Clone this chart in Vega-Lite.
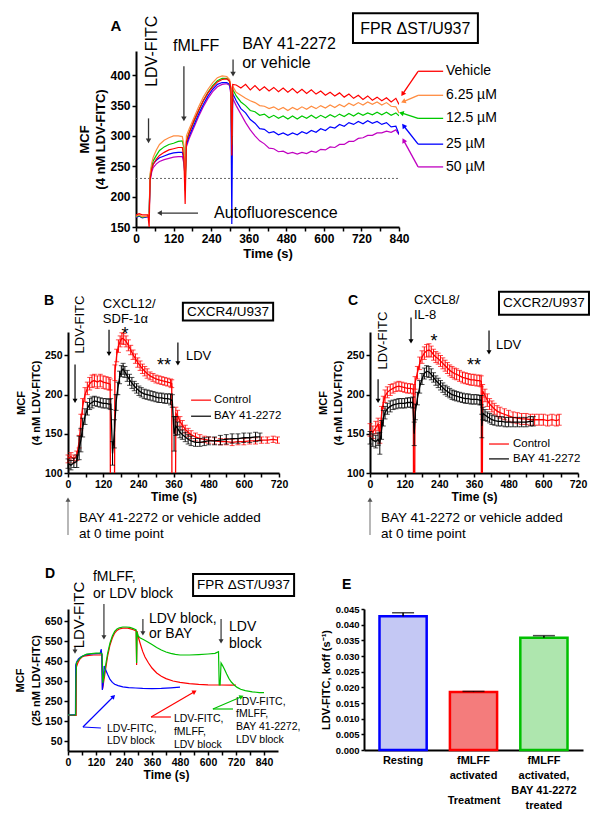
{
"$schema":"https://vega.github.io/schema/vega-lite/v6.json",
"padding":{"left":5,"top":5,"right":0,"bottom":0},
"background":"white",
"config":{
 "font":"Liberation Sans",
 "view":{"stroke":null},
 "axis":{"domainColor":"#000","domainWidth":2,"tickColor":"#000","tickWidth":1.5,"tickSize":4,"labelFontWeight":"bold","labelColor":"#000","titleFontWeight":"bold","titleColor":"#000","grid":false,"labelPadding":2},
 "text":{"color":"#000"}
},
"datasets":{
"a_lines":[
{"s":"50","x":0,"y":166},{"s":"50","x":10,"y":168},{"s":"50","x":20,"y":166},{"s":"50","x":38,"y":167},{"s":"50","x":42,"y":170},{"s":"50","x":45,"y":225},{"s":"50","x":50,"y":240},{"s":"50","x":55,"y":248},{"s":"50","x":65,"y":254},{"s":"50","x":75,"y":258},{"s":"50","x":90,"y":261},{"s":"50","x":105,"y":263},{"s":"50","x":120,"y":265},{"s":"50","x":135,"y":266},{"s":"50","x":148,"y":266},{"s":"50","x":153,"y":255},{"s":"50","x":157,"y":230},{"s":"50","x":161,"y":282},{"s":"50","x":170,"y":296},{"s":"50","x":185,"y":314},{"s":"50","x":200,"y":332},{"s":"50","x":215,"y":348},{"s":"50","x":230,"y":362},{"s":"50","x":245,"y":373},{"s":"50","x":260,"y":381},{"s":"50","x":275,"y":385},{"s":"50","x":290,"y":386},{"s":"50","x":299,"y":383},{"s":"50","x":303,"y":368},{"s":"50","x":306,"y":330},{"s":"50","x":309,"y":362},
{"s":"50","x":320,"y":350},{"s":"50","x":335,"y":336},{"s":"50","x":350,"y":322},{"s":"50","x":365,"y":310},{"s":"50","x":380,"y":300},{"s":"50","x":395,"y":292},{"s":"50","x":410,"y":287},{"s":"50","x":425,"y":280},{"s":"50","x":440,"y":279},{"s":"50","x":455,"y":274},{"s":"50","x":470,"y":275},{"s":"50","x":485,"y":271},{"s":"50","x":500,"y":273},{"s":"50","x":515,"y":270},{"s":"50","x":530,"y":273},{"s":"50","x":545,"y":271},{"s":"50","x":560,"y":275},{"s":"50","x":575,"y":273},{"s":"50","x":590,"y":278},{"s":"50","x":605,"y":277},{"s":"50","x":620,"y":282},{"s":"50","x":635,"y":281},{"s":"50","x":650,"y":286},{"s":"50","x":665,"y":286},{"s":"50","x":680,"y":291},{"s":"50","x":695,"y":291},{"s":"50","x":710,"y":296},{"s":"50","x":725,"y":297},{"s":"50","x":740,"y":301},{"s":"50","x":755,"y":301},{"s":"50","x":770,"y":305},{"s":"50","x":785,"y":305},{"s":"50","x":800,"y":308},{"s":"50","x":815,"y":306},{"s":"50","x":830,"y":310},{"s":"50","x":840,"y":302},
{"s":"25","x":0,"y":166},{"s":"25","x":10,"y":168},{"s":"25","x":20,"y":165},{"s":"25","x":38,"y":167},{"s":"25","x":42,"y":170},{"s":"25","x":45,"y":230},{"s":"25","x":50,"y":246},{"s":"25","x":55,"y":254},{"s":"25","x":65,"y":260},{"s":"25","x":75,"y":264},{"s":"25","x":90,"y":267},{"s":"25","x":105,"y":270},{"s":"25","x":120,"y":272},{"s":"25","x":135,"y":273},{"s":"25","x":148,"y":273},{"s":"25","x":153,"y":262},{"s":"25","x":157,"y":232},{"s":"25","x":161,"y":286},{"s":"25","x":170,"y":300},{"s":"25","x":185,"y":318},{"s":"25","x":200,"y":336},{"s":"25","x":215,"y":352},{"s":"25","x":230,"y":366},{"s":"25","x":245,"y":377},{"s":"25","x":260,"y":385},{"s":"25","x":275,"y":388},{"s":"25","x":290,"y":388},{"s":"25","x":299,"y":385},{"s":"25","x":303,"y":372},{"s":"25","x":306,"y":155},{"s":"25","x":309,"y":370},
{"s":"25","x":320,"y":358},{"s":"25","x":335,"y":345},{"s":"25","x":350,"y":338},{"s":"25","x":365,"y":327},{"s":"25","x":380,"y":321},{"s":"25","x":395,"y":312},{"s":"25","x":410,"y":311},{"s":"25","x":425,"y":305},{"s":"25","x":440,"y":307},{"s":"25","x":455,"y":302},{"s":"25","x":470,"y":305},{"s":"25","x":485,"y":301},{"s":"25","x":500,"y":305},{"s":"25","x":515,"y":302},{"s":"25","x":530,"y":307},{"s":"25","x":545,"y":304},{"s":"25","x":560,"y":309},{"s":"25","x":575,"y":306},{"s":"25","x":590,"y":312},{"s":"25","x":605,"y":309},{"s":"25","x":620,"y":315},{"s":"25","x":635,"y":313},{"s":"25","x":650,"y":319},{"s":"25","x":665,"y":316},{"s":"25","x":680,"y":322},{"s":"25","x":695,"y":319},{"s":"25","x":710,"y":324},{"s":"25","x":725,"y":320},{"s":"25","x":740,"y":325},{"s":"25","x":755,"y":321},{"s":"25","x":770,"y":324},{"s":"25","x":785,"y":319},{"s":"25","x":800,"y":322},{"s":"25","x":815,"y":315},{"s":"25","x":830,"y":316},{"s":"25","x":840,"y":303},
{"s":"12.5","x":0,"y":167},{"s":"12.5","x":10,"y":169},{"s":"12.5","x":20,"y":166},{"s":"12.5","x":38,"y":168},{"s":"12.5","x":42,"y":172},{"s":"12.5","x":45,"y":234},{"s":"12.5","x":50,"y":250},{"s":"12.5","x":55,"y":259},{"s":"12.5","x":65,"y":268},{"s":"12.5","x":75,"y":276},{"s":"12.5","x":90,"y":282},{"s":"12.5","x":105,"y":286},{"s":"12.5","x":120,"y":288},{"s":"12.5","x":135,"y":291},{"s":"12.5","x":148,"y":292},{"s":"12.5","x":153,"y":280},{"s":"12.5","x":157,"y":210},{"s":"12.5","x":161,"y":292},{"s":"12.5","x":170,"y":306},{"s":"12.5","x":185,"y":324},{"s":"12.5","x":200,"y":342},{"s":"12.5","x":215,"y":358},{"s":"12.5","x":230,"y":372},{"s":"12.5","x":245,"y":383},{"s":"12.5","x":260,"y":391},{"s":"12.5","x":275,"y":395},{"s":"12.5","x":290,"y":395},{"s":"12.5","x":299,"y":390},{"s":"12.5","x":303,"y":378},{"s":"12.5","x":306,"y":285},{"s":"12.5","x":309,"y":377},
{"s":"12.5","x":320,"y":366},{"s":"12.5","x":335,"y":356},{"s":"12.5","x":350,"y":350},{"s":"12.5","x":365,"y":342},{"s":"12.5","x":380,"y":340},{"s":"12.5","x":395,"y":334},{"s":"12.5","x":410,"y":336},{"s":"12.5","x":425,"y":330},{"s":"12.5","x":440,"y":334},{"s":"12.5","x":455,"y":329},{"s":"12.5","x":470,"y":333},{"s":"12.5","x":485,"y":328},{"s":"12.5","x":500,"y":333},{"s":"12.5","x":515,"y":328},{"s":"12.5","x":530,"y":333},{"s":"12.5","x":545,"y":329},{"s":"12.5","x":560,"y":334},{"s":"12.5","x":575,"y":329},{"s":"12.5","x":590,"y":334},{"s":"12.5","x":605,"y":330},{"s":"12.5","x":620,"y":335},{"s":"12.5","x":635,"y":331},{"s":"12.5","x":650,"y":336},{"s":"12.5","x":665,"y":332},{"s":"12.5","x":680,"y":337},{"s":"12.5","x":695,"y":333},{"s":"12.5","x":710,"y":338},{"s":"12.5","x":725,"y":334},{"s":"12.5","x":740,"y":338},{"s":"12.5","x":755,"y":335},{"s":"12.5","x":770,"y":339},{"s":"12.5","x":785,"y":335},{"s":"12.5","x":800,"y":339},{"s":"12.5","x":815,"y":334},{"s":"12.5","x":830,"y":338},{"s":"12.5","x":840,"y":333},
{"s":"6.25","x":0,"y":168},{"s":"6.25","x":10,"y":170},{"s":"6.25","x":20,"y":167},{"s":"6.25","x":38,"y":168},{"s":"6.25","x":42,"y":175},{"s":"6.25","x":45,"y":238},{"s":"6.25","x":50,"y":255},{"s":"6.25","x":55,"y":265},{"s":"6.25","x":65,"y":277},{"s":"6.25","x":75,"y":286},{"s":"6.25","x":90,"y":293},{"s":"6.25","x":105,"y":297},{"s":"6.25","x":120,"y":300},{"s":"6.25","x":135,"y":300},{"s":"6.25","x":148,"y":299},{"s":"6.25","x":153,"y":285},{"s":"6.25","x":157,"y":225},{"s":"6.25","x":161,"y":300},{"s":"6.25","x":170,"y":312},{"s":"6.25","x":185,"y":330},{"s":"6.25","x":200,"y":348},{"s":"6.25","x":215,"y":364},{"s":"6.25","x":230,"y":377},{"s":"6.25","x":245,"y":388},{"s":"6.25","x":260,"y":396},{"s":"6.25","x":275,"y":399},{"s":"6.25","x":290,"y":398},{"s":"6.25","x":299,"y":393},{"s":"6.25","x":303,"y":380},{"s":"6.25","x":306,"y":300},{"s":"6.25","x":309,"y":382},
{"s":"6.25","x":320,"y":372},{"s":"6.25","x":335,"y":367},{"s":"6.25","x":350,"y":362},{"s":"6.25","x":365,"y":358},{"s":"6.25","x":380,"y":355},{"s":"6.25","x":395,"y":350},{"s":"6.25","x":410,"y":349},{"s":"6.25","x":425,"y":345},{"s":"6.25","x":440,"y":348},{"s":"6.25","x":455,"y":343},{"s":"6.25","x":470,"y":347},{"s":"6.25","x":485,"y":342},{"s":"6.25","x":500,"y":347},{"s":"6.25","x":515,"y":343},{"s":"6.25","x":530,"y":348},{"s":"6.25","x":545,"y":344},{"s":"6.25","x":560,"y":349},{"s":"6.25","x":575,"y":345},{"s":"6.25","x":590,"y":350},{"s":"6.25","x":605,"y":346},{"s":"6.25","x":620,"y":351},{"s":"6.25","x":635,"y":347},{"s":"6.25","x":650,"y":352},{"s":"6.25","x":665,"y":348},{"s":"6.25","x":680,"y":354},{"s":"6.25","x":695,"y":350},{"s":"6.25","x":710,"y":355},{"s":"6.25","x":725,"y":351},{"s":"6.25","x":740,"y":356},{"s":"6.25","x":755,"y":352},{"s":"6.25","x":770,"y":356},{"s":"6.25","x":785,"y":351},{"s":"6.25","x":800,"y":355},{"s":"6.25","x":815,"y":349},{"s":"6.25","x":830,"y":348},{"s":"6.25","x":840,"y":338},
{"s":"Vehicle","x":0,"y":170},{"s":"Vehicle","x":10,"y":172},{"s":"Vehicle","x":20,"y":170},{"s":"Vehicle","x":38,"y":170},{"s":"Vehicle","x":42,"y":150},{"s":"Vehicle","x":45,"y":228},{"s":"Vehicle","x":50,"y":245},{"s":"Vehicle","x":55,"y":253},{"s":"Vehicle","x":65,"y":262},{"s":"Vehicle","x":75,"y":268},{"s":"Vehicle","x":90,"y":273},{"s":"Vehicle","x":105,"y":277},{"s":"Vehicle","x":120,"y":279},{"s":"Vehicle","x":135,"y":281},{"s":"Vehicle","x":148,"y":281},{"s":"Vehicle","x":153,"y":262},{"s":"Vehicle","x":157,"y":188},{"s":"Vehicle","x":161,"y":290},{"s":"Vehicle","x":170,"y":305},{"s":"Vehicle","x":185,"y":325},{"s":"Vehicle","x":200,"y":342},{"s":"Vehicle","x":215,"y":358},{"s":"Vehicle","x":230,"y":371},{"s":"Vehicle","x":245,"y":381},{"s":"Vehicle","x":260,"y":389},{"s":"Vehicle","x":275,"y":393},{"s":"Vehicle","x":290,"y":394},{"s":"Vehicle","x":299,"y":390},{"s":"Vehicle","x":303,"y":378},{"s":"Vehicle","x":306,"y":268},{"s":"Vehicle","x":309,"y":385},
{"s":"Vehicle","x":320,"y":384},{"s":"Vehicle","x":335,"y":379},{"s":"Vehicle","x":350,"y":385},{"s":"Vehicle","x":365,"y":376},{"s":"Vehicle","x":380,"y":383},{"s":"Vehicle","x":395,"y":375},{"s":"Vehicle","x":410,"y":381},{"s":"Vehicle","x":425,"y":374},{"s":"Vehicle","x":440,"y":380},{"s":"Vehicle","x":455,"y":373},{"s":"Vehicle","x":470,"y":379},{"s":"Vehicle","x":485,"y":372},{"s":"Vehicle","x":500,"y":378},{"s":"Vehicle","x":515,"y":371},{"s":"Vehicle","x":530,"y":377},{"s":"Vehicle","x":545,"y":370},{"s":"Vehicle","x":560,"y":376},{"s":"Vehicle","x":575,"y":369},{"s":"Vehicle","x":590,"y":374},{"s":"Vehicle","x":605,"y":367},{"s":"Vehicle","x":620,"y":372},{"s":"Vehicle","x":635,"y":366},{"s":"Vehicle","x":650,"y":371},{"s":"Vehicle","x":665,"y":364},{"s":"Vehicle","x":680,"y":369},{"s":"Vehicle","x":695,"y":362},{"s":"Vehicle","x":710,"y":367},{"s":"Vehicle","x":725,"y":360},{"s":"Vehicle","x":740,"y":366},{"s":"Vehicle","x":755,"y":359},{"s":"Vehicle","x":770,"y":364},{"s":"Vehicle","x":785,"y":358},{"s":"Vehicle","x":800,"y":363},{"s":"Vehicle","x":815,"y":356},{"s":"Vehicle","x":830,"y":362},{"s":"Vehicle","x":840,"y":352}
],
"b_ctrl":[
{"x":0,"y":118,"e":5},{"x":10,"y":121,"e":5},{"x":20,"y":118,"e":5},{"x":30,"y":122,"e":6},{"x":38,"y":140,"e":8},{"x":44,"y":165,"e":10},{"x":50,"y":185,"e":10},{"x":58,"y":200,"e":9},{"x":66,"y":208,"e":8},{"x":74,"y":214,"e":8},{"x":82,"y":217,"e":8},{"x":90,"y":218,"e":8},{"x":100,"y":216,"e":8},{"x":110,"y":218,"e":8},{"x":120,"y":216,"e":8},{"x":130,"y":215,"e":8},{"x":140,"y":214,"e":8},{"x":144,"y":213,"e":7},{"x":145,"y":0,"e":0},{"x":158,"y":0,"e":0},{"x":160,"y":228,"e":10},{"x":166,"y":250,"e":8},{"x":172,"y":262,"e":8},{"x":178,"y":268,"e":7},{"x":184,"y":272,"e":7},{"x":190,"y":271,"e":7},{"x":198,"y":268,"e":7},{"x":206,"y":263,"e":7},{"x":214,"y":257,"e":6},{"x":222,"y":251,"e":6},{"x":230,"y":246,"e":6},{"x":238,"y":241,"e":6},{"x":246,"y":237,"e":6},{"x":254,"y":233,"e":6},{"x":262,"y":230,"e":6},{"x":270,"y":227,"e":6},{"x":280,"y":224,"e":5},{"x":290,"y":222,"e":5},{"x":300,"y":220,"e":5},{"x":310,"y":219,"e":5},{"x":320,"y":218,"e":5},{"x":330,"y":217,"e":5},{"x":340,"y":216,"e":5},{"x":350,"y":215,"e":5},{"x":354,"y":214,"e":5},{"x":355,"y":0,"e":0},{"x":366,"y":0,"e":0},{"x":368,"y":176,"e":8},{"x":374,"y":173,"e":7},{"x":382,"y":166,"e":6},{"x":390,"y":161,"e":6},{"x":400,"y":156,"e":5},{"x":410,"y":152,"e":5},{"x":420,"y":149,"e":5},{"x":435,"y":146,"e":5},{"x":450,"y":144,"e":5},{"x":465,"y":143,"e":4},{"x":480,"y":142,"e":4},{"x":500,"y":141,"e":4},{"x":520,"y":140,"e":4},{"x":540,"y":140,"e":4},{"x":560,"y":139,"e":4},{"x":580,"y":140,"e":4},{"x":600,"y":140,"e":4},{"x":620,"y":141,"e":4},{"x":640,"y":141,"e":4},{"x":660,"y":142,"e":4},{"x":680,"y":142,"e":4},{"x":700,"y":143,"e":4},{"x":715,"y":142,"e":4}
],
"b_bay":[
{"x":0,"y":112,"e":6},{"x":10,"y":110,"e":6},{"x":20,"y":113,"e":6},{"x":30,"y":115,"e":8},{"x":38,"y":132,"e":15},{"x":44,"y":142,"e":15},{"x":50,"y":158,"e":12},{"x":58,"y":172,"e":10},{"x":66,"y":182,"e":8},{"x":74,"y":188,"e":7},{"x":82,"y":190,"e":7},{"x":90,"y":192,"e":6},{"x":100,"y":191,"e":6},{"x":110,"y":190,"e":6},{"x":120,"y":189,"e":6},{"x":130,"y":189,"e":6},{"x":140,"y":188,"e":6},{"x":146,"y":188,"e":7},{"x":152,"y":125,"e":15},{"x":158,"y":150,"e":18},{"x":164,"y":190,"e":10},{"x":170,"y":208,"e":8},{"x":176,"y":222,"e":8},{"x":182,"y":230,"e":7},{"x":188,"y":233,"e":7},{"x":194,"y":229,"e":7},{"x":202,"y":224,"e":7},{"x":210,"y":219,"e":7},{"x":218,"y":215,"e":7},{"x":226,"y":211,"e":6},{"x":234,"y":208,"e":6},{"x":242,"y":205,"e":6},{"x":250,"y":203,"e":6},{"x":260,"y":201,"e":6},{"x":270,"y":200,"e":6},{"x":280,"y":199,"e":6},{"x":290,"y":198,"e":6},{"x":300,"y":197,"e":6},{"x":310,"y":196,"e":6},{"x":320,"y":196,"e":6},{"x":330,"y":195,"e":6},{"x":340,"y":195,"e":6},{"x":350,"y":194,"e":7},{"x":356,"y":192,"e":8},{"x":362,"y":150,"e":22},{"x":368,"y":160,"e":12},{"x":374,"y":157,"e":8},{"x":382,"y":152,"e":7},{"x":390,"y":149,"e":6},{"x":400,"y":146,"e":6},{"x":410,"y":143,"e":6},{"x":420,"y":141,"e":6},{"x":435,"y":139,"e":5},{"x":450,"y":139,"e":5},{"x":465,"y":140,"e":5},{"x":480,"y":141,"e":5},{"x":500,"y":141,"e":5},{"x":520,"y":142,"e":6},{"x":540,"y":143,"e":6},{"x":560,"y":144,"e":6},{"x":580,"y":144,"e":6},{"x":600,"y":145,"e":6},{"x":620,"y":145,"e":6},{"x":640,"y":146,"e":6},{"x":655,"y":146,"e":5}
],
"c_ctrl":[
{"x":0,"y":155,"e":8},{"x":10,"y":152,"e":8},{"x":20,"y":158,"e":8},{"x":28,"y":162,"e":8},{"x":34,"y":150,"e":12},{"x":40,"y":175,"e":10},{"x":46,"y":190,"e":8},{"x":52,"y":198,"e":8},{"x":60,"y":203,"e":7},{"x":70,"y":206,"e":7},{"x":80,"y":208,"e":6},{"x":90,"y":210,"e":6},{"x":100,"y":211,"e":6},{"x":110,"y":210,"e":6},{"x":120,"y":209,"e":6},{"x":130,"y":208,"e":6},{"x":140,"y":208,"e":6},{"x":150,"y":207,"e":6},{"x":151,"y":0,"e":0},{"x":154,"y":0,"e":0},{"x":156,"y":215,"e":8},{"x":164,"y":228,"e":8},{"x":172,"y":240,"e":8},{"x":180,"y":248,"e":8},{"x":188,"y":253,"e":8},{"x":196,"y":256,"e":8},{"x":204,"y":257,"e":8},{"x":212,"y":255,"e":7},{"x":220,"y":251,"e":7},{"x":228,"y":248,"e":7},{"x":236,"y":246,"e":7},{"x":244,"y":243,"e":7},{"x":252,"y":240,"e":7},{"x":260,"y":237,"e":7},{"x":268,"y":234,"e":7},{"x":276,"y":231,"e":7},{"x":284,"y":229,"e":7},{"x":292,"y":227,"e":7},{"x":300,"y":226,"e":7},{"x":310,"y":224,"e":7},{"x":320,"y":222,"e":7},{"x":330,"y":221,"e":7},{"x":340,"y":220,"e":7},{"x":350,"y":219,"e":7},{"x":360,"y":219,"e":7},{"x":370,"y":218,"e":7},{"x":380,"y":218,"e":7},{"x":385,"y":217,"e":7},{"x":386,"y":0,"e":0},{"x":388,"y":0,"e":0},{"x":390,"y":205,"e":8},{"x":398,"y":199,"e":8},{"x":406,"y":193,"e":8},{"x":414,"y":188,"e":7},{"x":422,"y":185,"e":7},{"x":430,"y":182,"e":7},{"x":440,"y":179,"e":7},{"x":450,"y":177,"e":7},{"x":465,"y":175,"e":7},{"x":480,"y":173,"e":7},{"x":495,"y":171,"e":7},{"x":510,"y":170,"e":7},{"x":525,"y":169,"e":7},{"x":540,"y":169,"e":7},{"x":555,"y":168,"e":7},{"x":570,"y":168,"e":7},{"x":585,"y":168,"e":7},{"x":600,"y":168,"e":7},{"x":615,"y":167,"e":7},{"x":630,"y":168,"e":7},{"x":645,"y":167,"e":7},{"x":655,"y":168,"e":7}
],
"c_bay":[
{"x":0,"y":145,"e":8},{"x":10,"y":142,"e":8},{"x":20,"y":140,"e":8},{"x":28,"y":143,"e":8},{"x":34,"y":138,"e":14},{"x":40,"y":155,"e":12},{"x":46,"y":170,"e":10},{"x":52,"y":177,"e":8},{"x":60,"y":182,"e":7},{"x":70,"y":185,"e":7},{"x":80,"y":187,"e":6},{"x":90,"y":188,"e":6},{"x":100,"y":189,"e":6},{"x":110,"y":189,"e":6},{"x":120,"y":189,"e":6},{"x":130,"y":190,"e":6},{"x":140,"y":190,"e":6},{"x":148,"y":190,"e":7},{"x":153,"y":150,"e":15},{"x":157,"y":178,"e":10},{"x":164,"y":195,"e":8},{"x":172,"y":210,"e":8},{"x":180,"y":220,"e":7},{"x":188,"y":227,"e":7},{"x":196,"y":230,"e":7},{"x":204,"y":229,"e":7},{"x":212,"y":226,"e":7},{"x":220,"y":222,"e":6},{"x":228,"y":218,"e":6},{"x":236,"y":215,"e":6},{"x":244,"y":212,"e":6},{"x":252,"y":209,"e":6},{"x":260,"y":206,"e":6},{"x":268,"y":204,"e":6},{"x":276,"y":202,"e":6},{"x":284,"y":200,"e":6},{"x":292,"y":199,"e":6},{"x":300,"y":198,"e":6},{"x":310,"y":197,"e":6},{"x":320,"y":196,"e":6},{"x":330,"y":195,"e":6},{"x":340,"y":195,"e":6},{"x":350,"y":194,"e":6},{"x":360,"y":194,"e":6},{"x":370,"y":194,"e":6},{"x":380,"y":193,"e":6},{"x":385,"y":193,"e":6},{"x":387,"y":160,"e":15},{"x":391,"y":176,"e":8},{"x":398,"y":174,"e":7},{"x":406,"y":172,"e":6},{"x":414,"y":170,"e":6},{"x":422,"y":168,"e":6},{"x":432,"y":167,"e":6},{"x":444,"y":166,"e":6},{"x":456,"y":166,"e":6},{"x":468,"y":165,"e":6},{"x":480,"y":165,"e":6},{"x":495,"y":165,"e":6},{"x":510,"y":165,"e":6},{"x":525,"y":165,"e":6},{"x":540,"y":165,"e":6},{"x":555,"y":166,"e":6},{"x":565,"y":166,"e":6}
],
"d_lines":[
{"s":"fMLFF","x":0,"y":178},{"s":"fMLFF","x":35,"y":178},{"s":"fMLFF","x":36,"y":420},{"s":"fMLFF","x":42,"y":440},{"s":"fMLFF","x":50,"y":458},{"s":"fMLFF","x":60,"y":470},{"s":"fMLFF","x":75,"y":476},{"s":"fMLFF","x":90,"y":478},{"s":"fMLFF","x":110,"y":480},{"s":"fMLFF","x":130,"y":480},{"s":"fMLFF","x":145,"y":481},{"s":"fMLFF","x":148,"y":310},{"s":"fMLFF","x":151,"y":330},{"s":"fMLFF","x":160,"y":400},{"s":"fMLFF","x":170,"y":475},{"s":"fMLFF","x":180,"y":530},{"s":"fMLFF","x":190,"y":565},{"s":"fMLFF","x":200,"y":590},{"s":"fMLFF","x":210,"y":603},{"s":"fMLFF","x":220,"y":610},{"s":"fMLFF","x":235,"y":614},{"s":"fMLFF","x":250,"y":615},{"s":"fMLFF","x":265,"y":612},{"s":"fMLFF","x":280,"y":606},{"s":"fMLFF","x":292,"y":600},{"s":"fMLFF","x":294,"y":430},{"s":"fMLFF","x":296,"y":600},{"s":"fMLFF","x":300,"y":575},{"s":"fMLFF","x":310,"y":535},{"s":"fMLFF","x":320,"y":498},{"s":"fMLFF","x":330,"y":470},{"s":"fMLFF","x":345,"y":440},{"s":"fMLFF","x":360,"y":415},{"s":"fMLFF","x":380,"y":390},{"s":"fMLFF","x":400,"y":374},{"s":"fMLFF","x":420,"y":362},{"s":"fMLFF","x":450,"y":350},{"s":"fMLFF","x":480,"y":343},{"s":"fMLFF","x":520,"y":337},{"s":"fMLFF","x":560,"y":333},{"s":"fMLFF","x":600,"y":331},{"s":"fMLFF","x":650,"y":330},{"s":"fMLFF","x":700,"y":329},{"s":"fMLFF","x":720,"y":330},
{"s":"LDV block","x":0,"y":180},{"s":"LDV block","x":32,"y":182},{"s":"LDV block","x":33,"y":430},{"s":"LDV block","x":38,"y":448},{"s":"LDV block","x":45,"y":460},{"s":"LDV block","x":55,"y":470},{"s":"LDV block","x":65,"y":476},{"s":"LDV block","x":80,"y":482},{"s":"LDV block","x":100,"y":485},{"s":"LDV block","x":120,"y":487},{"s":"LDV block","x":138,"y":488},{"s":"LDV block","x":142,"y":510},{"s":"LDV block","x":145,"y":480},{"s":"LDV block","x":147,"y":305},{"s":"LDV block","x":150,"y":330},{"s":"LDV block","x":155,"y":425},{"s":"LDV block","x":160,"y":410},{"s":"LDV block","x":170,"y":382},{"s":"LDV block","x":180,"y":358},{"s":"LDV block","x":190,"y":343},{"s":"LDV block","x":200,"y":334},{"s":"LDV block","x":215,"y":327},{"s":"LDV block","x":235,"y":321},{"s":"LDV block","x":260,"y":317},{"s":"LDV block","x":290,"y":315},{"s":"LDV block","x":320,"y":313},{"s":"LDV block","x":360,"y":312},{"s":"LDV block","x":400,"y":313},{"s":"LDV block","x":440,"y":316},{"s":"LDV block","x":480,"y":319},
{"s":"BAY","x":0,"y":180},{"s":"BAY","x":33,"y":180},{"s":"BAY","x":34,"y":360},{"s":"BAY","x":36,"y":440},{"s":"BAY","x":45,"y":455},{"s":"BAY","x":55,"y":468},{"s":"BAY","x":65,"y":476},{"s":"BAY","x":80,"y":484},{"s":"BAY","x":100,"y":487},{"s":"BAY","x":120,"y":489},{"s":"BAY","x":140,"y":490},{"s":"BAY","x":146,"y":486},{"s":"BAY","x":149,"y":340},{"s":"BAY","x":152,"y":360},{"s":"BAY","x":160,"y":420},{"s":"BAY","x":170,"y":490},{"s":"BAY","x":180,"y":540},{"s":"BAY","x":190,"y":575},{"s":"BAY","x":200,"y":598},{"s":"BAY","x":210,"y":610},{"s":"BAY","x":220,"y":616},{"s":"BAY","x":235,"y":620},{"s":"BAY","x":250,"y":620},{"s":"BAY","x":265,"y":618},{"s":"BAY","x":280,"y":612},{"s":"BAY","x":292,"y":606},{"s":"BAY","x":294,"y":440},{"s":"BAY","x":296,"y":595},{"s":"BAY","x":300,"y":575},{"s":"BAY","x":310,"y":565},{"s":"BAY","x":325,"y":556},{"s":"BAY","x":340,"y":546},{"s":"BAY","x":360,"y":532},{"s":"BAY","x":380,"y":518},{"s":"BAY","x":400,"y":505},{"s":"BAY","x":420,"y":495},{"s":"BAY","x":440,"y":488},{"s":"BAY","x":460,"y":483},{"s":"BAY","x":480,"y":480},{"s":"BAY","x":520,"y":480},{"s":"BAY","x":560,"y":482},{"s":"BAY","x":600,"y":485},{"s":"BAY","x":630,"y":488},{"s":"BAY","x":645,"y":496},{"s":"BAY","x":648,"y":330},{"s":"BAY","x":652,"y":330},{"s":"BAY","x":656,"y":440},{"s":"BAY","x":662,"y":428},{"s":"BAY","x":670,"y":410},{"s":"BAY","x":680,"y":385},{"s":"BAY","x":690,"y":362},{"s":"BAY","x":700,"y":345},{"s":"BAY","x":712,"y":330},{"s":"BAY","x":725,"y":318},{"s":"BAY","x":740,"y":309},{"s":"BAY","x":760,"y":302},{"s":"BAY","x":790,"y":296},{"s":"BAY","x":820,"y":292},{"s":"BAY","x":840,"y":292}
]
},
"spacing":0,
"resolve":{"scale":{"color":"independent","fill":"independent","stroke":"independent"}},
"vconcat":[
 {"bounds":"flush","spacing":0,"resolve":{"scale":{"color":"independent","fill":"independent","stroke":"independent"}},
  "hconcat":[
  {"width":68,"height":1,"data":{"values":[]},"mark":"point"},
  {"width":263,"height":176,
  "encoding":{
   "x":{"field":"x","type":"quantitative","scale":{"domain":[0,840],"nice":false,"zero":false},"axis":{"values":[0,60,120,180,240,300,360,420,480,540,600,660,720,780,840],"labelExpr":"datum.value % 120 == 0 ? datum.label : ''","title":"Time (s)","labelFontSize":12,"titleFontSize":13,"titlePadding":3,"labelFlush":false}},
   "y":{"field":"y","type":"quantitative","scale":{"domain":[150,440],"nice":false,"zero":false},"axis":{"values":[150,200,250,300,350,400],"title":["MCF","(4 nM LDV-FITC)"],"labelFontSize":12,"titleFontSize":13,"titleLineHeight":16,"titlePadding":2}}
  },
  "layer":[
   {"data":{"values":[{"x":-415,"y":513.5},{"x":-415,"y":52.9}]},"mark":{"type":"point","opacity":0,"size":1}},
   {"data":{"values":[{"x":0,"x2":840,"y":230}]},"mark":{"type":"rule","color":"#666666","strokeDash":[2,2],"strokeWidth":1},"encoding":{"x2":{"field":"x2"}}},
   {"data":{"name":"a_lines"},"mark":{"type":"line","strokeWidth":1.2,"clip":true},"encoding":{"color":{"field":"s","type":"nominal","scale":{"domain":["Vehicle","6.25","12.5","25","50","k"],"range":["#ff0000","#ff8c40","#00c800","#0000ff","#c000c0","#333333"]},"legend":null}}},
   {"data":{"values":[{"x":693,"x2":1092,"y":453,"y2":502}]},"mark":{"type":"rect","fill":"white","stroke":"black","strokeWidth":2},"encoding":{"x2":{"field":"x2"},"y2":{"field":"y2"}}},
   {"data":{"values":[{"x":892,"y":477,"text":"FPR ΔST/U937"},{"x":192,"y":448,"text":"fMLFF"}]},"mark":{"type":"text","fontSize":16,"align":"center","baseline":"middle"},"encoding":{"text":{"field":"text"}}},
   {"data":{"values":[{"x":339,"y":451,"text":"BAY 41-2272"},{"x":339,"y":421,"text":"or vehicle"},{"x":249,"y":173,"text":"Autofluorescence"}]},"mark":{"type":"text","fontSize":16,"align":"left","baseline":"middle"},"encoding":{"text":{"field":"text"}}},
   {"data":{"values":[{"x":51,"y":439.5,"text":"LDV-FITC"}]},"mark":{"type":"text","fontSize":16,"align":"center","baseline":"middle","angle":270},"encoding":{"text":{"field":"text"}}},
   {"data":{"values":[{"x":990,"y":406.6,"text":"Vehicle"},{"x":990,"y":367,"text":"6.25 µM"},{"x":990,"y":329,"text":"12.5 µM"},{"x":990,"y":286.5,"text":"25 µM"},{"x":990,"y":249,"text":"50 µM"}]},"mark":{"type":"text","fontSize":14,"align":"left","baseline":"middle"},"encoding":{"text":{"field":"text"}}},
   {"data":{"values":[{"x":-64,"y":482,"text":"A"}]},"mark":{"type":"text","fontSize":15,"fontWeight":"bold","align":"center","baseline":"middle"},"encoding":{"text":{"field":"text"}}},
   {"data":{"values":[
     {"c":"k","x":40,"y":329,"x2":40,"y2":292},{"c":"k","x":153,"y":415,"x2":153,"y2":328},{"c":"k","x":310,"y":426,"x2":310,"y2":402},{"c":"k","x":198,"y":173,"x2":78,"y2":173},
     {"c":"Vehicle","x":981,"y":406.6,"x2":901,"y2":406.6},{"c":"Vehicle","x":901,"y":406.6,"x2":853,"y2":370},
     {"c":"6.25","x":981,"y":367,"x2":901,"y2":367},{"c":"6.25","x":901,"y":367,"x2":856,"y2":357},
     {"c":"12.5","x":981,"y":329,"x2":901,"y2":329},{"c":"12.5","x":901,"y":329,"x2":850,"y2":337.5},
     {"c":"25","x":981,"y":286.5,"x2":901,"y2":286.5},{"c":"25","x":901,"y":286.5,"x2":856,"y2":316},
     {"c":"50","x":981,"y":249,"x2":901,"y2":249},{"c":"50","x":901,"y":249,"x2":856,"y2":291.5}
    ]},"mark":{"type":"rule","strokeWidth":1.3},"encoding":{"x2":{"field":"x2"},"y2":{"field":"y2"},"color":{"field":"c","type":"nominal","legend":null}}},
   {"data":{"values":[{"x":40,"y":292},{"x":153,"y":328},{"x":310,"y":402}]},"mark":{"type":"point","shape":"triangle-down","filled":true,"size":30,"color":"#333333","opacity":1}},
   {"data":{"values":[{"x":75,"y":173}]},"mark":{"type":"point","shape":"triangle-left","filled":true,"size":30,"color":"#333333","opacity":1}},
   {"data":{"values":[{"x":853,"y":370}]},"mark":{"type":"point","shape":"triangle","angle":214,"filled":true,"size":30,"color":"#ff0000","opacity":1}},
   {"data":{"values":[{"x":856,"y":357}]},"mark":{"type":"point","shape":"triangle","angle":247,"filled":true,"size":30,"color":"#ff8c40","opacity":1}},
   {"data":{"values":[{"x":850,"y":337.5}]},"mark":{"type":"point","shape":"triangle","angle":285,"filled":true,"size":30,"color":"#00c800","opacity":1}},
   {"data":{"values":[{"x":856,"y":316}]},"mark":{"type":"point","shape":"triangle","angle":324,"filled":true,"size":30,"color":"#0000ff","opacity":1}},
   {"data":{"values":[{"x":856,"y":291.5}]},"mark":{"type":"point","shape":"triangle","angle":332,"filled":true,"size":30,"color":"#c000c0","opacity":1}}
  ]
  }
  ]
 },
 {"bounds":"flush","spacing":91,"resolve":{"scale":{"color":"independent","fill":"independent","stroke":"independent"}},
  "hconcat":[
  {"width":211,"height":141,
   "encoding":{
    "x":{"field":"x","type":"quantitative","scale":{"domain":[0,720],"nice":false,"zero":false},"axis":{"values":[0,60,120,180,240,300,360,420,480,540,600,660,720],"labelExpr":"datum.value % 120 == 0 ? datum.label : ''","title":"Time (s)","labelFontSize":10.5,"titleFontSize":12,"titlePadding":2,"labelFlush":false}},
    "y":{"field":"y","type":"quantitative","scale":{"domain":[100,280],"nice":false,"zero":false},"axis":{"values":[100,150,200,250],"title":["MCF","(4 nM LDV-FITC)"],"labelFontSize":10.5,"titleFontSize":11,"titleLineHeight":15,"titlePadding":3}}
   },
   "layer":[
    {"data":{"values":[{"x":-211.5,"y":336.6},{"x":-211.5,"y":-13.2}]},"mark":{"type":"point","opacity":0,"size":1}},
    {"data":{"name":"b_ctrl"},"mark":{"type":"line","color":"#ff0000","strokeWidth":1.3,"clip":true}},
    {"data":{"name":"b_ctrl"},"transform":[{"filter":"datum.e > 0"}],"mark":{"type":"errorbar","color":"#ff0000","ticks":true},"encoding":{"yError":{"field":"e"}}},
    {"data":{"name":"b_bay"},"mark":{"type":"line","color":"#000000","strokeWidth":1.3,"clip":true}},
    {"data":{"name":"b_bay"},"transform":[{"filter":"datum.e > 0"}],"mark":{"type":"errorbar","color":"#000000","ticks":true},"encoding":{"yError":{"field":"e"}}},
    {"data":{"values":[{"x":392,"x2":700,"y":294.6,"y2":317.5}]},"mark":{"type":"rect","fill":"white","stroke":"black","strokeWidth":2},"encoding":{"x2":{"field":"x2"},"y2":{"field":"y2"}}},
    {"data":{"values":[{"x":546,"y":306,"text":"CXCR4/U937"}]},"mark":{"type":"text","fontSize":13.5,"align":"center","baseline":"middle"},"encoding":{"text":{"field":"text"}}},
    {"data":{"values":[{"x":119,"y":316,"text":"CXCL12/"},{"x":119,"y":297,"text":"SDF-1α"},{"x":402.6,"y":250,"text":"LDV"}]},"mark":{"type":"text","fontSize":13,"align":"left","baseline":"middle"},"encoding":{"text":{"field":"text"}}},
    {"data":{"values":[{"x":194.5,"y":276,"text":"*"},{"x":327.5,"y":237,"text":"**"}]},"mark":{"type":"text","fontSize":18,"align":"center","baseline":"middle"},"encoding":{"text":{"field":"text"}}},
    {"data":{"values":[{"x":41,"y":289.5,"text":"LDV-FITC"}]},"mark":{"type":"text","fontSize":13,"align":"center","baseline":"middle","angle":270},"encoding":{"text":{"field":"text"}}},
    {"data":{"values":[{"x":498,"y":193,"text":"Control"},{"x":498,"y":172.5,"text":"BAY 41-2272"}]},"mark":{"type":"text","fontSize":11.5,"align":"left","baseline":"middle"},"encoding":{"text":{"field":"text"}}},
    {"data":{"values":[{"x":37.5,"y":42.8,"text":"BAY 41-2272 or vehicle added"},{"x":37.5,"y":22.4,"text":"at 0 time point"}]},"mark":{"type":"text","fontSize":13.5,"align":"left","baseline":"middle"},"encoding":{"text":{"field":"text"}}},
    {"data":{"values":[{"x":-65,"y":320,"text":"B"}]},"mark":{"type":"text","fontSize":14,"fontWeight":"bold","align":"center","baseline":"middle"},"encoding":{"text":{"field":"text"}}},
    {"data":{"values":[{"x":140,"y":283,"x2":140,"y2":252},{"x":375,"y":266.6,"x2":375,"y2":240},{"x":24,"y":238.6,"x2":24,"y2":192},{"x":420,"y":172.5,"x2":488,"y2":172.5}]},"mark":{"type":"rule","color":"#000000","strokeWidth":1.2},"encoding":{"x2":{"field":"x2"},"y2":{"field":"y2"}}},
    {"data":{"values":[{"x":0,"y":21,"x2":0,"y2":66}]},"mark":{"type":"rule","color":"#888888","strokeWidth":1.2},"encoding":{"x2":{"field":"x2"},"y2":{"field":"y2"}}},
    {"data":{"values":[{"x":420,"y":193,"x2":488,"y2":193}]},"mark":{"type":"rule","color":"#ff0000","strokeWidth":1.2},"encoding":{"x2":{"field":"x2"},"y2":{"field":"y2"}}},
    {"data":{"values":[{"x":140,"y":252},{"x":375,"y":240},{"x":24,"y":192}]},"mark":{"type":"point","shape":"triangle-down","filled":true,"size":25,"color":"#000000","opacity":1}},
    {"data":{"values":[{"x":0,"y":66}]},"mark":{"type":"point","shape":"triangle-up","filled":true,"size":25,"color":"#555555","opacity":1}}
   ]
  },
  {"width":208,"height":141,
   "encoding":{
    "x":{"field":"x","type":"quantitative","scale":{"domain":[0,720],"nice":false,"zero":false},"axis":{"values":[0,60,120,180,240,300,360,420,480,540,600,660,720],"labelExpr":"datum.value % 120 == 0 ? datum.label : ''","title":"Time (s)","labelFontSize":10.5,"titleFontSize":12,"titlePadding":2,"labelFlush":false}},
    "y":{"field":"y","type":"quantitative","scale":{"domain":[100,280],"nice":false,"zero":false},"axis":{"values":[100,150,200,250],"title":["MCF","(4 nM LDV-FITC)"],"labelFontSize":10.5,"titleFontSize":11,"titleLineHeight":15,"titlePadding":3}}
   },
   "layer":[
    {"data":{"name":"c_ctrl"},"mark":{"type":"line","color":"#ff0000","strokeWidth":1.3,"clip":true}},
    {"data":{"name":"c_ctrl"},"transform":[{"filter":"datum.e > 0"}],"mark":{"type":"errorbar","color":"#ff0000","ticks":true},"encoding":{"yError":{"field":"e"}}},
    {"data":{"name":"c_bay"},"mark":{"type":"line","color":"#000000","strokeWidth":1.3,"clip":true}},
    {"data":{"name":"c_bay"},"transform":[{"filter":"datum.e > 0"}],"mark":{"type":"errorbar","color":"#000000","ticks":true},"encoding":{"yError":{"field":"e"}}},
    {"data":{"values":[{"x":446.5,"x2":758,"y":302,"y2":331.5}]},"mark":{"type":"rect","fill":"white","stroke":"black","strokeWidth":2},"encoding":{"x2":{"field":"x2"},"y2":{"field":"y2"}}},
    {"data":{"values":[{"x":602,"y":317,"text":"CXCR2/U937"}]},"mark":{"type":"text","fontSize":13.5,"align":"center","baseline":"middle"},"encoding":{"text":{"field":"text"}}},
    {"data":{"values":[{"x":152,"y":321,"text":"CXCL8/"},{"x":152,"y":302,"text":"IL-8"},{"x":436,"y":264,"text":"LDV"}]},"mark":{"type":"text","fontSize":13,"align":"left","baseline":"middle"},"encoding":{"text":{"field":"text"}}},
    {"data":{"values":[{"x":221.5,"y":267,"text":"*"},{"x":360,"y":237,"text":"**"}]},"mark":{"type":"text","fontSize":18,"align":"center","baseline":"middle"},"encoding":{"text":{"field":"text"}}},
    {"data":{"values":[{"x":45,"y":269,"text":"LDV-FITC"}]},"mark":{"type":"text","fontSize":13,"align":"center","baseline":"middle","angle":270},"encoding":{"text":{"field":"text"}}},
    {"data":{"values":[{"x":495,"y":137,"text":"Control"},{"x":495,"y":118,"text":"BAY 41-2272"}]},"mark":{"type":"text","fontSize":11.5,"align":"left","baseline":"middle"},"encoding":{"text":{"field":"text"}}},
    {"data":{"values":[{"x":38,"y":42.8,"text":"BAY 41-2272 or vehicle added"},{"x":38,"y":22.4,"text":"at 0 time point"}]},"mark":{"type":"text","fontSize":13.5,"align":"left","baseline":"middle"},"encoding":{"text":{"field":"text"}}},
    {"data":{"values":[{"x":-59,"y":320,"text":"C"}]},"mark":{"type":"text","fontSize":14,"fontWeight":"bold","align":"center","baseline":"middle"},"encoding":{"text":{"field":"text"}}},
    {"data":{"values":[{"x":142,"y":298.5,"x2":142,"y2":268},{"x":412,"y":282,"x2":412,"y2":254},{"x":28,"y":219.6,"x2":28,"y2":192},{"x":412,"y":118,"x2":481,"y2":118}]},"mark":{"type":"rule","color":"#000000","strokeWidth":1.2},"encoding":{"x2":{"field":"x2"},"y2":{"field":"y2"}}},
    {"data":{"values":[{"x":0,"y":21,"x2":0,"y2":66}]},"mark":{"type":"rule","color":"#888888","strokeWidth":1.2},"encoding":{"x2":{"field":"x2"},"y2":{"field":"y2"}}},
    {"data":{"values":[{"x":412,"y":137,"x2":481,"y2":137}]},"mark":{"type":"rule","color":"#ff0000","strokeWidth":1.2},"encoding":{"x2":{"field":"x2"},"y2":{"field":"y2"}}},
    {"data":{"values":[{"x":142,"y":268},{"x":412,"y":254},{"x":28,"y":192}]},"mark":{"type":"point","shape":"triangle-down","filled":true,"size":25,"color":"#000000","opacity":1}},
    {"data":{"values":[{"x":0,"y":66}]},"mark":{"type":"point","shape":"triangle-up","filled":true,"size":25,"color":"#555555","opacity":1}}
   ]
  }
  ]
 },
 {"bounds":"flush","spacing":86,"resolve":{"scale":{"color":"independent","fill":"independent","stroke":"independent"}},
  "hconcat":[
  {"width":210,"height":142,
   "encoding":{
    "x":{"field":"x","type":"quantitative","scale":{"domain":[0,900],"nice":false,"zero":false},"axis":{"values":[0,60,120,180,240,300,360,420,480,540,600,660,720,780,840],"labelExpr":"datum.value % 120 == 0 ? datum.label : ''","title":"Time (s)","labelFontSize":10.5,"titleFontSize":12,"titlePadding":2,"labelFlush":false,"titleX":98}},
    "y":{"field":"y","type":"quantitative","scale":{"domain":[0,710],"nice":false,"zero":false},"axis":{"values":[50,150,250,350,450,550,650],"title":["MCF","(25 nM LDV-FITC)"],"labelFontSize":10.5,"titleFontSize":11,"titleLineHeight":16,"titlePadding":3}}
   },
   "layer":[
    {"data":{"values":[{"x":-265.7,"y":935},{"x":-265.7,"y":-315}]},"mark":{"type":"point","opacity":0,"size":1}},
    {"data":{"name":"d_lines"},"mark":{"type":"line","strokeWidth":1.2,"clip":true},"encoding":{"color":{"field":"s","type":"nominal","scale":{"domain":["fMLFF","LDV block","BAY","k"],"range":["#ff0000","#0000ff","#00c000","#333333"]},"legend":null}}},
    {"data":{"values":[{"x":536,"x2":969,"y":775,"y2":885}]},"mark":{"type":"rect","fill":"white","stroke":"black","strokeWidth":2},"encoding":{"x2":{"field":"x2"},"y2":{"field":"y2"}}},
    {"data":{"values":[{"x":752,"y":830,"text":"FPR ΔST/U937"}]},"mark":{"type":"text","fontSize":13.5,"align":"center","baseline":"middle"},"encoding":{"text":{"field":"text"}}},
    {"data":{"values":[{"x":107,"y":870,"text":"fMLFF,"},{"x":107,"y":785,"text":"or LDV block"},{"x":347,"y":660,"text":"LDV block,"},{"x":347,"y":585,"text":"or BAY"},{"x":690,"y":620,"text":"LDV"},{"x":690,"y":535,"text":"block"}]},"mark":{"type":"text","fontSize":14,"align":"left","baseline":"middle"},"encoding":{"text":{"field":"text"}}},
    {"data":{"values":[{"x":47,"y":680,"text":"LDV-FITC"}]},"mark":{"type":"text","fontSize":15,"align":"center","baseline":"middle","angle":270},"encoding":{"text":{"field":"text"}}},
    {"data":{"values":[{"x":167,"y":110,"text":"LDV-FITC,"},{"x":167,"y":50,"text":"LDV block"},{"x":454,"y":160,"text":"LDV-FITC,"},{"x":454,"y":95,"text":"fMLFF,"},{"x":454,"y":30,"text":"LDV block"},{"x":720,"y":245,"text":"LDV-FITC,"},{"x":720,"y":185,"text":"fMLFF,"},{"x":720,"y":120,"text":"BAY 41-2272,"},{"x":720,"y":55,"text":"LDV block"}]},"mark":{"type":"text","fontSize":10.5,"align":"left","baseline":"middle"},"encoding":{"text":{"field":"text"}}},
    {"data":{"values":[{"x":-77,"y":885,"text":"D"}]},"mark":{"type":"text","fontSize":14,"fontWeight":"bold","align":"center","baseline":"middle"},"encoding":{"text":{"field":"text"}}},
    {"data":{"values":[
      {"c":"k","x":154,"y":735,"x2":154,"y2":568},{"c":"k","x":30,"y":520,"x2":30,"y2":497},{"c":"k","x":321,"y":660,"x2":321,"y2":588},{"c":"k","x":656,"y":660,"x2":656,"y2":548},
      {"c":"LDV block","x":141,"y":115,"x2":64,"y2":120},{"c":"LDV block","x":64,"y":120,"x2":193,"y2":270},
      {"c":"fMLFF","x":441,"y":170,"x2":356,"y2":170},{"c":"fMLFF","x":356,"y":170,"x2":540,"y2":295},
      {"c":"BAY","x":707,"y":210,"x2":621,"y2":210},{"c":"BAY","x":621,"y":210,"x2":741,"y2":270}
     ]},"mark":{"type":"rule","strokeWidth":1.2},"encoding":{"x2":{"field":"x2"},"y2":{"field":"y2"},"color":{"field":"c","type":"nominal","legend":null}}},
    {"data":{"values":[{"x":154,"y":568},{"x":30,"y":497},{"x":321,"y":588},{"x":656,"y":548}]},"mark":{"type":"point","shape":"triangle-down","filled":true,"size":25,"color":"#333333","opacity":1}},
    {"data":{"values":[{"x":193,"y":270}]},"mark":{"type":"point","shape":"triangle","angle":45,"filled":true,"size":25,"color":"#0000ff","opacity":1}},
    {"data":{"values":[{"x":540,"y":295}]},"mark":{"type":"point","shape":"triangle","angle":60,"filled":true,"size":25,"color":"#ff0000","opacity":1}},
    {"data":{"values":[{"x":741,"y":270}]},"mark":{"type":"point","shape":"triangle","angle":67,"filled":true,"size":25,"color":"#00c000","opacity":1}}
   ]
  },
  {"width":219,"height":141,
   "title":{"text":"E","anchor":"start","frame":"group","dx":-22,"offset":12,"fontSize":14,"fontWeight":"bold","color":"#000000"},
   "data":{"values":[
     {"treatment":"Resting","koff":0.0427,"upper":0.0438},
     {"treatment":"fMLFF activated","koff":0.0185,"upper":0.0187},
     {"treatment":"fMLFF activated, BAY 41-2272 treated","koff":0.0358,"upper":0.0365}
   ]},
   "encoding":{
     "x":{"field":"treatment","type":"nominal","sort":null,"scale":{"paddingInner":0.33,"paddingOuter":0.22},"axis":{"title":"Treatment","labelAngle":0,"ticks":false,"labelExpr":"datum.label == 'Resting' ? 'Resting' : (datum.label == 'fMLFF activated' ? ['fMLFF','activated'] : ['fMLFF','activated,','BAY 41-2272','treated'])","labelFontSize":11,"labelLineHeight":15,"labelPadding":4,"labelBaseline":"top","titleFontSize":11,"titleY":50,"titleBaseline":"middle"}},
     "y":{"field":"koff","type":"quantitative","scale":{"domain":[0,0.045],"nice":false,"zero":true},"axis":{"values":[0,0.005,0.01,0.015,0.02,0.025,0.03,0.035,0.04,0.045],"tickCount":10,"format":".3f","title":"LDV-FITC, koff (s⁻¹)","labelFontSize":9.5,"labelOverlap":false,"titleFontSize":11,"tickSize":3,"titlePadding":4}}
   },
   "layer":[
    {"mark":{"type":"bar","strokeWidth":2.5},"encoding":{
      "fill":{"field":"treatment","type":"nominal","scale":{"domain":["Resting","fMLFF activated","fMLFF activated, BAY 41-2272 treated"],"range":["#c4c8f4","#f47c7c","#aee6ae"]},"legend":null},
      "stroke":{"field":"treatment","type":"nominal","scale":{"domain":["Resting","fMLFF activated","fMLFF activated, BAY 41-2272 treated"],"range":["#0000ff","#ff0000","#00c000"]},"legend":null}}},
    {"mark":{"type":"rule","color":"#000000","strokeWidth":1.5},"encoding":{"y2":{"field":"upper"}}},
    {"mark":{"type":"tick","color":"#000000","thickness":1.5,"size":22},"encoding":{"y":{"field":"upper","type":"quantitative","axis":{"values":[0,0.005,0.01,0.015,0.02,0.025,0.03,0.035,0.04,0.045],"tickCount":10,"format":".3f","title":"LDV-FITC, koff (s⁻¹)","labelFontSize":9.5,"labelOverlap":false,"titleFontSize":11,"tickSize":3,"titlePadding":4}}}}
   ]
  }
 ]
 }
]
}
